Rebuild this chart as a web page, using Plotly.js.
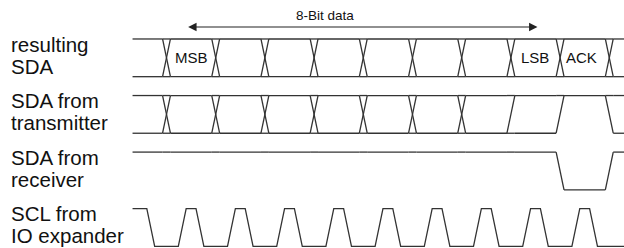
<!DOCTYPE html>
<html><head><meta charset="utf-8">
<script src="https://cdn.plot.ly/plotly-3.0.1.min.js"></script>
<style>html,body{margin:0;padding:0;background:#fff}#chart{width:624px;height:248px}</style>
</head><body><div id="chart"></div>
<script>
// ---- data ----
const rowLabelLine1 = ['resulting', 'SDA from', 'SDA from', 'SCL from'];
const rowLabelLine2 = ['SDA', 'transmitter', 'receiver', 'IO expander'];
const bitLabels = ['MSB', '', '', '', '', '', '', 'LSB', 'ACK'];
const bitEdges = [0, 1, 2, 3, 4, 5, 6, 7, 8, 9];
const spanLabel = '8-Bit data';
const spanFromBit = 0.41;
const spanToBit = 7.54;
// line states per interval: before edge 0, each bit slot, after edge 9
const resultingStates = ['both','both','both','both','both','both','both','both','both','both','both'];
const resultingEdges = ['X','X','X','X','X','X','X','X','X','X'];
const transmitterStates = ['both','both','both','both','both','both','both','both','both','high','both'];
const transmitterEdges = ['X','X','X','X','X','X','X','/','/','\\'];
const receiverStates = ['high','high','high','high','high','high','high','high','high','low','high'];
const receiverEdges = ['','','','','','','','','\\','/'];
// SCL: bit slots with a high clock pulse (-1 = pulse before the first bit)
const sclPulseBits = [-1, 0, 1, 2, 3, 4, 5, 6, 7, 8];

// ---- drawing constants ----
const START = -0.69, END = 9.6, H = 0.08;
const ROWGAP = 1.5;
const LINE = {color: '#333', width: 1.3};
const FONT = 'Liberation Sans, Arial, Helvetica, sans-serif';
const LABEL_SHIFT = {ACK: -0.07};

function levelsOf(s) { return s === 'both' ? ['high', 'low'] : [s]; }

function dataRow(states, edges, base) {
  const xs = [], ys = [];
  const lv = {high: base + 1, low: base};
  const seg = (x0, y0, x1, y1) => { xs.push(x0, x1, null); ys.push(y0, y1, null); };
  const bounds = [START, ...bitEdges, END];
  states.forEach((s, i) => {
    const x0 = i === 0 ? bounds[i] : bounds[i] + H;
    const x1 = i === states.length - 1 ? bounds[i + 1] : bounds[i + 1] - H;
    levelsOf(s).forEach(l => seg(x0, lv[l], x1, lv[l]));
  });
  bitEdges.forEach((e, j) => {
    const prev = levelsOf(states[j]), next = levelsOf(states[j + 1]);
    prev.filter(l => next.includes(l)).forEach(l => seg(e - H, lv[l], e + H, lv[l]));
    const t = edges[j];
    if (t === 'X' || t === '/') seg(e - H, lv.low, e + H, lv.high);
    if (t === 'X' || t === '\\') seg(e - H, lv.high, e + H, lv.low);
  });
  return {x: xs, y: ys, mode: 'lines', line: LINE, hoverinfo: 'skip', showlegend: false};
}

function clockRow(pulses, base) {
  const hi = base + 1, lo = base;
  const xs = [], ys = [];
  pulses.forEach((k, i) => {
    const r0 = k + 0.24, r1 = k + 0.4, f0 = k + 0.6, f1 = k + 0.76;
    if (i === 0 && r0 <= START) { xs.push(START); ys.push(hi); }
    else { if (i === 0) { xs.push(START); ys.push(lo); } xs.push(r0, r1); ys.push(lo, hi); }
    xs.push(f0, f1); ys.push(hi, lo);
  });
  xs.push(END); ys.push(lo);
  return {x: xs, y: ys, mode: 'lines', line: LINE, hoverinfo: 'skip', showlegend: false};
}

const traces = [
  dataRow(resultingStates, resultingEdges, 0),
  dataRow(transmitterStates, transmitterEdges, -ROWGAP),
  dataRow(receiverStates, receiverEdges, -2 * ROWGAP),
  clockRow(sclPulseBits, -3 * ROWGAP)
];

const annotations = [];
rowLabelLine1.forEach((t, r) => {
  const top = -r * ROWGAP + 1;
  annotations.push({xref: 'paper', yref: 'y', x: 9 / 624, y: top - 0.14, xanchor: 'left', yanchor: 'middle',
    text: t, showarrow: false, font: {family: FONT, size: 20.5, color: '#111'}});
  annotations.push({xref: 'paper', yref: 'y', x: 9 / 624, y: top - 0.72, xanchor: 'left', yanchor: 'middle',
    text: rowLabelLine2[r], showarrow: false, font: {family: FONT, size: 20.5, color: '#111'}});
});
bitLabels.forEach((t, k) => {
  if (!t) return;
  annotations.push({x: k + 0.5 + (LABEL_SHIFT[t] || 0), y: 0.5, xanchor: 'center', yanchor: 'middle', text: t, showarrow: false,
    font: {family: FONT, size: 15, color: '#111'}});
});
annotations.push({x: 3.23, y: 1.62, text: spanLabel, showarrow: false, xanchor: 'center', yanchor: 'middle',
  font: {family: FONT, size: 13.5, color: '#111'}});
annotations.push({x: spanToBit, y: 1.318, ax: spanFromBit, ay: 1.318, axref: 'x', ayref: 'y', text: '',
  showarrow: true, arrowhead: 2, arrowside: 'end+start', arrowsize: 1.4, arrowwidth: 1.2, arrowcolor: '#222'});

const layout = {
  width: 624, height: 248,
  margin: {l: 0, r: 0, t: 0, b: 0},
  paper_bgcolor: '#fff', plot_bgcolor: '#fff',
  xaxis: {range: [-3.384, 9.299], visible: false, fixedrange: true},
  yaxis: {range: [-4.544, 2.034], visible: false, fixedrange: true},
  showlegend: false, hovermode: false,
  annotations: annotations
};
Plotly.newPlot('chart', traces, layout, {staticPlot: true, displayModeBar: false});
</script>
</body></html>
